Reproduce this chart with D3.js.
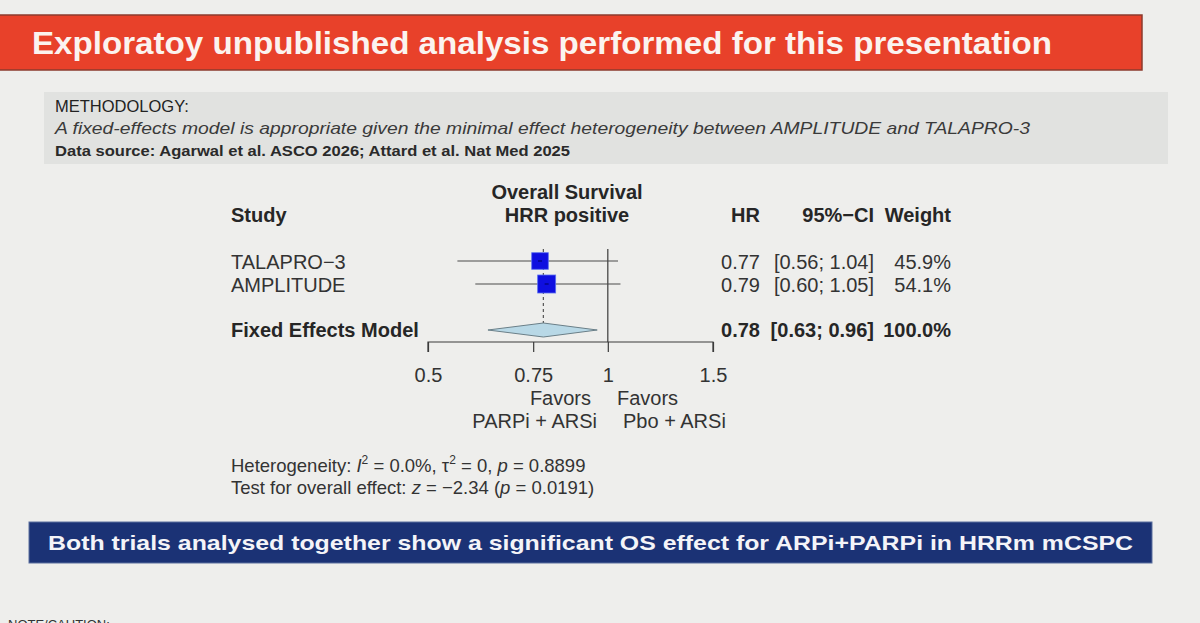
<!DOCTYPE html>
<html>
<head>
<meta charset="utf-8">
<script src="https://cdn.jsdelivr.net/npm/d3@7"></script>
<style>
  html, body { margin: 0; padding: 0; background: #eeeeec; }
  svg { display: block; font-family: "Liberation Sans", Arial, sans-serif; }
</style>
</head>
<body>
<svg id="chart" width="1200" height="623"></svg>
<script>
// study level data
const studies = ['TALAPRO\u22123', 'AMPLITUDE'];
const hr = [0.77, 0.79];
const lower = [0.56, 0.60];
const upper = [1.04, 1.05];
const weight = [45.9, 54.1];

// pooled fixed-effects estimate
const pooledLabel = 'Fixed Effects Model';
const pooled = [0.78, 0.63, 0.96, 100.0];

const tickValues = [0.5, 0.75, 1, 1.5];
const titleText = 'Exploratoy unpublished analysis performed for this presentation';
const bannerText = 'Both trials analysed together show a significant OS effect for ARPi+PARPi in HRRm mCSPC';

const svg = d3.select('#chart');
const ink = '#262626';

// ---- header banner
svg.append('rect')
    .attr('x', -2).attr('y', 15).attr('width', 1144).attr('height', 55)
    .attr('fill', '#e8412a').attr('stroke', '#8c3b2e').attr('stroke-width', 1.5);
svg.append('text')
    .attr('x', 32).attr('y', 54)
    .attr('fill', '#fbf3ef').attr('font-size', 31).attr('font-weight', 'bold')
    .attr('textLength', 1020).attr('lengthAdjust', 'spacingAndGlyphs')
    .text(titleText);

// ---- methodology box
svg.append('rect')
    .attr('x', 44).attr('y', 92).attr('width', 1124).attr('height', 72)
    .attr('fill', '#e1e2e0');
svg.append('text')
    .attr('x', 55).attr('y', 112).attr('font-size', 16.5).attr('fill', '#222')
    .text('METHODOLOGY:');
svg.append('text')
    .attr('x', 55).attr('y', 134).attr('font-size', 17).attr('font-style', 'italic').attr('fill', '#3a3a3a')
    .attr('textLength', 975).attr('lengthAdjust', 'spacingAndGlyphs')
    .text('A fixed-effects model is appropriate given the minimal effect heterogeneity between AMPLITUDE and TALAPRO-3');
svg.append('text')
    .attr('x', 55).attr('y', 156).attr('font-size', 15).attr('font-weight', 'bold').attr('fill', '#2a2a2a')
    .attr('textLength', 515).attr('lengthAdjust', 'spacingAndGlyphs')
    .text('Data source: Agarwal et al. ASCO 2026; Attard et al. Nat Med 2025');

// ---- forest plot
const x = d3.scaleLog().domain([0.5, 1.5]).range([428, 713]);
const rowY = i => 261 + i * 23;       // row centre lines
const side = d3.scaleSqrt().domain([0, 54.1]).range([0, 18]);
const fmt = d3.format('.2f');

const g = svg.append('g').attr('fill', ink).attr('font-size', 20);

// column headers
g.append('text').attr('x', 231).attr('y', rowY(-2) + 7).attr('font-weight', 'bold').text('Study');
g.append('text').attr('x', 567).attr('y', rowY(-3) + 7).attr('font-weight', 'bold')
    .attr('text-anchor', 'middle').text('Overall Survival');
g.append('text').attr('x', 567).attr('y', rowY(-2) + 7).attr('font-weight', 'bold')
    .attr('text-anchor', 'middle').text('HRR positive');
[['HR', 760], ['95%\u2212CI', 874], ['Weight', 951]].forEach(([t, xr]) => {
    g.append('text').attr('x', xr).attr('y', rowY(-2) + 7).attr('font-weight', 'bold')
        .attr('text-anchor', 'end').text(t);
});

// reference line at HR = 1 and dashed pooled line
g.append('line')
    .attr('x1', x(1)).attr('x2', x(1)).attr('y1', rowY(0) - 12).attr('y2', 342)
    .attr('stroke', '#3a3a3a').attr('stroke-width', 1.2);
g.append('line')
    .attr('x1', x(pooled[0])).attr('x2', x(pooled[0])).attr('y1', rowY(0) - 12).attr('y2', rowY(3) - 7)
    .attr('stroke', '#555').attr('stroke-width', 1.2).attr('stroke-dasharray', '3,3');

// study rows
const rows = studies.map((s, i) => ({ s, hr: hr[i], lo: lower[i], hi: upper[i], w: weight[i], i }));

g.selectAll('.ci').data(rows).join('line')
    .attr('class', 'ci')
    .attr('x1', d => x(d.lo)).attr('x2', d => x(d.hi))
    .attr('y1', d => rowY(d.i)).attr('y2', d => rowY(d.i))
    .attr('stroke', '#4a4a4a').attr('stroke-width', 1.1);

g.selectAll('.box').data(rows).join('rect')
    .attr('class', 'box')
    .attr('x', d => x(d.hr) - side(d.w) / 2).attr('y', d => rowY(d.i) - side(d.w) / 2)
    .attr('width', d => side(d.w)).attr('height', d => side(d.w))
    .attr('fill', '#0f0fe0').attr('stroke', '#5a6ff0').attr('stroke-width', 0.8);

g.selectAll('.mid').data(rows).join('line')
    .attr('class', 'mid')
    .attr('x1', d => x(d.hr) - 2).attr('x2', d => x(d.hr) + 2)
    .attr('y1', d => rowY(d.i)).attr('y2', d => rowY(d.i))
    .attr('stroke', '#000060').attr('stroke-width', 1);

g.selectAll('.lab').data(rows).join('text')
    .attr('class', 'lab').attr('x', 231).attr('y', d => rowY(d.i) + 8).attr('fill', '#333').text(d => d.s);
g.selectAll('.hrt').data(rows).join('text')
    .attr('text-anchor', 'end').attr('x', 760).attr('y', d => rowY(d.i) + 8).attr('fill', '#333').text(d => fmt(d.hr));
g.selectAll('.cit').data(rows).join('text')
    .attr('text-anchor', 'end').attr('x', 874).attr('y', d => rowY(d.i) + 8).attr('fill', '#333')
    .text(d => `[${fmt(d.lo)}; ${fmt(d.hi)}]`);
g.selectAll('.wt').data(rows).join('text')
    .attr('text-anchor', 'end').attr('x', 951).attr('y', d => rowY(d.i) + 8).attr('fill', '#333')
    .text(d => `${d.w.toFixed(1)}%`);

// pooled row
const py = rowY(3);
g.append('path')
    .attr('d', `M${x(pooled[1])},${py} L${x(pooled[0])},${py - 7} L${x(pooled[2])},${py} L${x(pooled[0])},${py + 7} Z`)
    .attr('fill', '#b8d8e6').attr('stroke', '#6a7f88').attr('stroke-width', 1);
g.append('text').attr('x', 231).attr('y', py + 7).attr('font-weight', 'bold').text(pooledLabel);
g.append('text').attr('x', 760).attr('y', py + 7).attr('font-weight', 'bold').attr('text-anchor', 'end').text(fmt(pooled[0]));
g.append('text').attr('x', 874).attr('y', py + 7).attr('font-weight', 'bold').attr('text-anchor', 'end')
    .text(`[${fmt(pooled[1])}; ${fmt(pooled[2])}]`);
g.append('text').attr('x', 951).attr('y', py + 7).attr('font-weight', 'bold').attr('text-anchor', 'end')
    .text(`${pooled[3].toFixed(1)}%`);

// x axis
const axis = g.append('g').attr('transform', 'translate(0,342)')
    .call(d3.axisBottom(x).tickValues(tickValues).tickSize(10).tickPadding(16)
        .tickFormat(d => String(d)));
axis.select('.domain').attr('stroke', '#3a3a3a').attr('stroke-width', 1.2).attr('d', `M${x(0.5)},10V0H${x(1.5)}V10`);
axis.selectAll('.tick line').attr('stroke', '#3a3a3a').attr('stroke-width', 1.2);
axis.selectAll('.tick text').attr('fill', '#333').attr('font-size', 20)
    .attr('font-family', '"Liberation Sans", Arial, sans-serif');

// favours labels
g.append('text').attr('x', 591).attr('y', 405).attr('text-anchor', 'end').attr('fill', '#333').text('Favors');
g.append('text').attr('x', 597).attr('y', 428).attr('text-anchor', 'end').attr('fill', '#333').text('PARPi + ARSi');
g.append('text').attr('x', 617).attr('y', 405).attr('fill', '#333').text('Favors');
g.append('text').attr('x', 623).attr('y', 428).attr('fill', '#333').text('Pbo + ARSi');

// heterogeneity notes
const het = g.append('text').attr('x', 231).attr('y', 472).attr('font-size', 18.5).attr('fill', '#333');
het.append('tspan').text('Heterogeneity: ');
het.append('tspan').attr('font-style', 'italic').text('I');
het.append('tspan').attr('font-size', 12).attr('dy', -8).text('2');
het.append('tspan').attr('dy', 8).text(' = 0.0%, \u03c4');
het.append('tspan').attr('font-size', 12).attr('dy', -8).text('2');
het.append('tspan').attr('dy', 8).text(' = 0, ');
het.append('tspan').attr('font-style', 'italic').text('p');
het.append('tspan').text(' = 0.8899');

const tst = g.append('text').attr('x', 231).attr('y', 494).attr('font-size', 18.5).attr('fill', '#333');
tst.append('tspan').text('Test for overall effect: ');
tst.append('tspan').attr('font-style', 'italic').text('z');
tst.append('tspan').text(' = \u22122.34 (');
tst.append('tspan').attr('font-style', 'italic').text('p');
tst.append('tspan').text(' = 0.0191)');

// ---- conclusion banner
svg.append('rect')
    .attr('x', 29).attr('y', 522).attr('width', 1123).attr('height', 41)
    .attr('fill', '#1b3275').attr('stroke', '#5b6f9e').attr('stroke-width', 1);
svg.append('text')
    .attr('x', 48).attr('y', 550)
    .attr('fill', '#f4f4f8').attr('font-size', 21).attr('font-weight', 'bold')
    .attr('textLength', 1085).attr('lengthAdjust', 'spacingAndGlyphs')
    .text(bannerText);

svg.append('text')
    .attr('x', 8).attr('y', 629).attr('font-size', 13).attr('fill', '#333')
    .text('NOTE/CAUTION:');
</script>
</body>
</html>
